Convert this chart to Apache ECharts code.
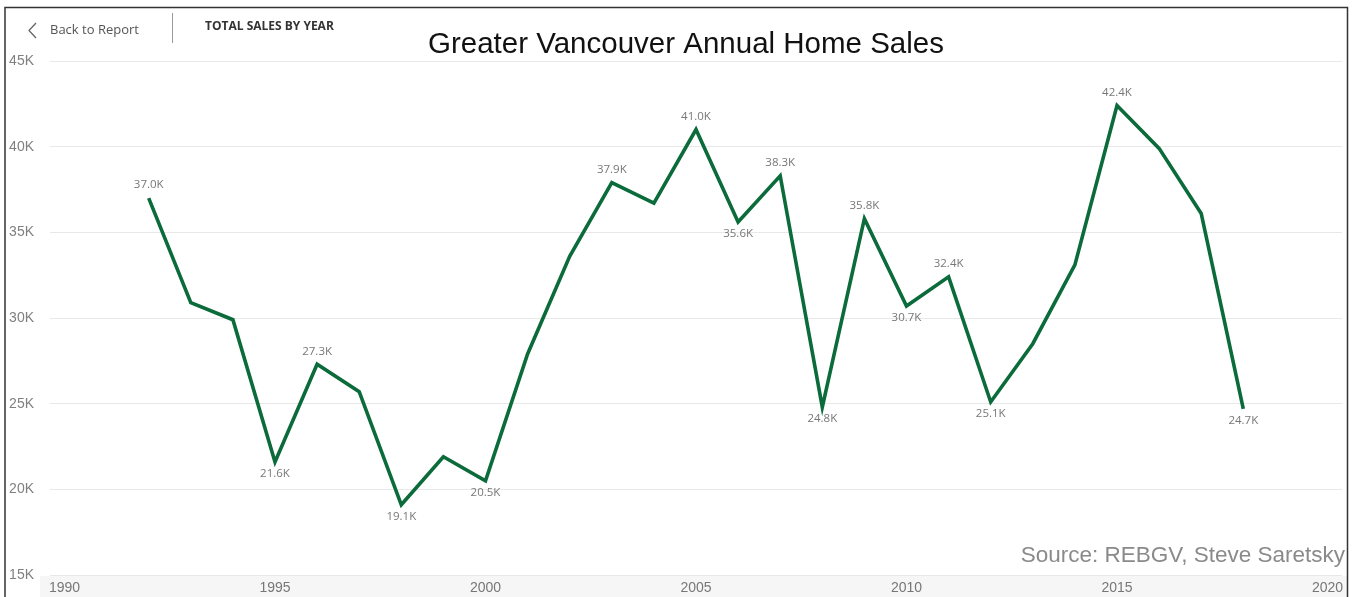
<!DOCTYPE html>
<html>
<head>
<meta charset="utf-8">
<script src="https://cdn.jsdelivr.net/npm/echarts@6/dist/echarts.min.js"></script>
<style>
html,body{margin:0;padding:0;background:#fff;}
#c{width:1352px;height:597px;}
</style>
</head>
<body>
<div id="c"></div>
<script>
// ---- data ----
var years = [1992,1993,1994,1995,1996,1997,1998,1999,2000,2001,2002,2003,2004,2005,2006,2007,2008,2009,2010,2011,2012,2013,2014,2015,2016,2017,2018];
var sales = [37000,30900,29900,21600,27300,25700,19100,21900,20500,27900,33600,37900,36700,41000,35600,38300,24800,35800,30700,32400,25100,28500,33100,42400,39900,36100,24700];
var labelsAbove = [1992,1996,2003,2005,2007,2009,2011,2015];
var labelsBelow = [1995,1998,2000,2006,2008,2010,2012,2018];
var yTicks = [15000,20000,25000,30000,35000,40000,45000];
var xTicks = [1990,1995,2000,2005,2010,2015,2020];
var titleText = 'Greater Vancouver Annual Home Sales';
var sourceText = 'Source: REBGV, Steve Saretsky';

var chart = echarts.init(document.getElementById('c'), null, {renderer:'canvas'});

var seriesData = years.map(function(y, i){
  var d = {value:[y, sales[i]]};
  if (labelsAbove.indexOf(y) >= 0) d.label = {show:true, position:'top', distance:6};
  else if (labelsBelow.indexOf(y) >= 0) d.label = {show:true, position:'bottom', distance:5};
  return d;
});

var fmtK = function(v){ return (v/1000) + 'K'; };

var option = {
  animation:false,
  backgroundColor:'#ffffff',
  grid:[
    {left:50, right:10, top:61, bottom:22, containLabel:false},
    {left:64.5, right:24.5, top:61, bottom:22, containLabel:false}
  ],
  xAxis:[
    {gridIndex:0, type:'value', min:0, max:1, show:false},
    {gridIndex:1, type:'value', min:xTicks[0], max:xTicks[xTicks.length-1], interval:5,
     axisLine:{show:false}, axisTick:{show:false}, splitLine:{show:false},
     axisLabel:{color:'#777', fontSize:14, fontFamily:'Liberation Sans, Arial, sans-serif', margin:6,
       formatter:function(v){ return String(v); }}}
  ],
  yAxis:[
    {gridIndex:0, type:'value', min:yTicks[0], max:yTicks[yTicks.length-1], interval:5000,
     axisLine:{show:false}, axisTick:{show:false},
     splitLine:{show:true, lineStyle:{color:'#e8e8e8', width:1.2}},
     axisLabel:{color:'#808080', fontSize:14, fontFamily:'Liberation Sans, Arial, sans-serif', margin:16, formatter:fmtK}},
    {gridIndex:1, type:'value', min:yTicks[0], max:yTicks[yTicks.length-1], show:false}
  ],
  series:[{
    type:'line',
    xAxisIndex:1, yAxisIndex:1,
    data:seriesData,
    showSymbol:true,
    symbol:'circle',
    symbolSize:2,
    itemStyle:{color:'rgba(0,0,0,0)', borderWidth:0},
    lineStyle:{color:'#0c6b3b', width:3.6, join:'miter'},
    label:{show:false, color:'#777', opacity:1, fontSize:11.5, fontFamily:'Open Sans, sans-serif',
      formatter:function(p){ return (p.value[1]/1000).toFixed(1) + 'K'; }}
  }],
  graphic:[
    {type:'rect', z:-1, shape:{x:40, y:576, width:1307, height:21}, style:{fill:'#f6f6f6'}},
    {type:'polyline', shape:{points:[[5,597],[5,7.5],[1347.5,7.5],[1347.5,597]]}, style:{stroke:'#333', lineWidth:1.5, fill:null}},
    {type:'polyline', shape:{points:[[36,23],[29,30.5],[36,38]]}, style:{stroke:'#666', lineWidth:1.3, fill:null}},
    {type:'text', x:50, y:30, style:{text:'Back to Report', fill:'#555', font:'13px "Open Sans", sans-serif', textVerticalAlign:'middle', verticalAlign:'middle'}},
    {type:'line', shape:{x1:172.5, y1:13, x2:172.5, y2:43}, style:{stroke:'#999', lineWidth:1}},
    {type:'text', x:205, y:27, style:{text:'TOTAL SALES BY YEAR', fill:'#333', font:'bold 12px "Open Sans", sans-serif', textVerticalAlign:'middle', verticalAlign:'middle'}},
    {type:'text', x:686, y:45, style:{text:titleText, fill:'#111', font:'29.5px "Liberation Sans", Arial, sans-serif', textAlign:'center', align:'center', textVerticalAlign:'middle', verticalAlign:'middle'}},
    {type:'text', x:1345, y:556, style:{text:sourceText, fill:'#8a8a8a', font:'22.5px "Liberation Sans", Arial, sans-serif', textAlign:'right', align:'right', textVerticalAlign:'middle', verticalAlign:'middle'}}
  ]
};
chart.setOption(option);
</script>
</body>
</html>
